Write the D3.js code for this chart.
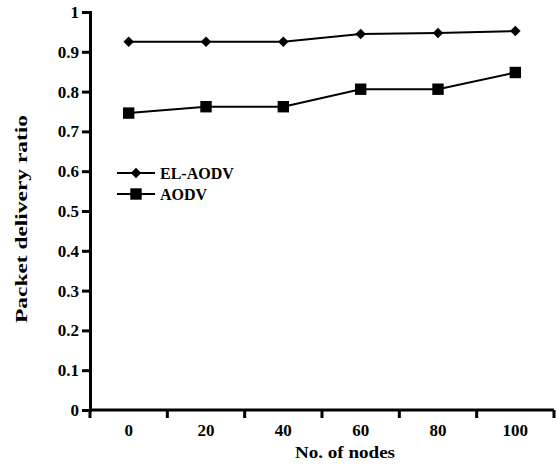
<!DOCTYPE html>
<html>
<head>
<meta charset="utf-8">
<script src="https://cdn.jsdelivr.net/npm/d3@7"></script>
<style>
  body { margin: 0; background: #fff; }
</style>
</head>
<body>
<div id="chart"></div>
<script>
// Data
const nodes = ["0", "20", "40", "60", "80", "100"];
const elAodv = [0.925, 0.925, 0.925, 0.945, 0.947, 0.952];
const aodv = [0.746, 0.762, 0.762, 0.806, 0.806, 0.848];
const yTicks = [0, 0.1, 0.2, 0.3, 0.4, 0.5, 0.6, 0.7, 0.8, 0.9, 1];

const FONT = "'Liberation Serif', 'Times New Roman', serif";
const width = 557, height = 469;
const margin = { top: 12, right: 3, bottom: 59, left: 90 };

const svg = d3.select("#chart")
  .append("svg")
  .attr("width", width)
  .attr("height", height)
  .attr("font-family", FONT)
  .attr("font-weight", "bold");

const g = svg.append("g")
  .attr("transform", `translate(${margin.left},${margin.top})`);

const innerW = width - margin.left - margin.right;
const innerH = height - margin.top - margin.bottom;

// X scale (categories)
const x = d3.scaleBand().domain(nodes).range([0, innerW]);
// Y scale
const y = d3.scaleLinear().domain([0, 1]).range([innerH, 0]);

// X axis, ticks on the band edges
const xAxis = g.append("g").attr("transform", `translate(0,${innerH})`);
xAxis.append("line")
  .attr("x1", 0).attr("x2", innerW)
  .attr("stroke", "#000").attr("stroke-width", 3);
xAxis.selectAll(".xt")
  .data(nodes.concat(["end"]))
  .enter().append("line")
  .attr("x1", (d, i) => i < nodes.length ? x(d) : innerW)
  .attr("x2", (d, i) => i < nodes.length ? x(d) : innerW)
  .attr("y1", 0).attr("y2", 8)
  .attr("stroke", "#000").attr("stroke-width", 3);
xAxis.selectAll(".xl")
  .data(nodes)
  .enter().append("text")
  .attr("x", d => x(d) + x.bandwidth() / 2)
  .attr("y", 26)
  .attr("text-anchor", "middle")
  .attr("font-family", FONT)
  .style("font-size", "17px")
  .text(d => d);

// Y axis
const yAxis = g.append("g")
  .call(d3.axisLeft(y).tickValues(yTicks).tickSize(8).tickPadding(3).tickFormat(d3.format("~g")));
yAxis.attr("font-family", FONT).attr("font-size", null);
yAxis.select(".domain").attr("stroke-width", 3);
yAxis.selectAll(".tick line").attr("stroke-width", 3);
yAxis.selectAll("text").style("font-size", "17px").attr("fill", "#000");

// Lines
const line = d3.line()
  .x((d, i) => x(nodes[i]) + x.bandwidth() / 2)
  .y(d => y(d));

g.append("path").datum(elAodv)
  .attr("fill", "none").attr("stroke", "#000").attr("stroke-width", 2)
  .attr("d", line);
g.append("path").datum(aodv)
  .attr("fill", "none").attr("stroke", "#000").attr("stroke-width", 2)
  .attr("d", line);

// diamond = square turned 45deg, squares a bit bigger
const diamond = d3.symbol().type(d3.symbolSquare).size(55);
const square = d3.symbol().type(d3.symbolSquare).size(130);

g.selectAll(".dm").data(elAodv).enter().append("path")
  .attr("d", diamond)
  .attr("transform", (d, i) => `translate(${x(nodes[i]) + x.bandwidth() / 2},${y(d)}) rotate(45)`)
  .attr("fill", "#000");
g.selectAll(".sq").data(aodv).enter().append("path")
  .attr("d", square)
  .attr("transform", (d, i) => `translate(${x(nodes[i]) + x.bandwidth() / 2},${y(d)})`)
  .attr("fill", "#000");

// Legend
const legend = svg.append("g").attr("transform", "translate(117,173)");
legend.append("line").attr("x1", 0).attr("x2", 38).attr("y1", 0).attr("y2", 0)
  .attr("stroke", "#000").attr("stroke-width", 2);
legend.append("path").attr("d", diamond).attr("transform", "translate(19,0) rotate(45)").attr("fill", "#000");
legend.append("text").attr("x", 43).attr("y", 6).style("font-size", "16px").text("EL-AODV");
legend.append("line").attr("x1", 0).attr("x2", 38).attr("y1", 21).attr("y2", 21)
  .attr("stroke", "#000").attr("stroke-width", 2);
legend.append("path").attr("d", square).attr("transform", "translate(19,21)").attr("fill", "#000");
legend.append("text").attr("x", 43).attr("y", 27).style("font-size", "16px").text("AODV");

// Axis titles
svg.append("text")
  .attr("x", 345).attr("y", 458)
  .attr("text-anchor", "middle")
  .style("font-size", "17px")
  .attr("textLength", 100)
  .attr("lengthAdjust", "spacingAndGlyphs")
  .text("No. of nodes");
svg.append("text")
  .attr("transform", "translate(27,219) rotate(-90)")
  .attr("text-anchor", "middle")
  .style("font-size", "17px")
  .attr("textLength", 208)
  .attr("lengthAdjust", "spacingAndGlyphs")
  .text("Packet delivery ratio");
</script>
</body>
</html>
